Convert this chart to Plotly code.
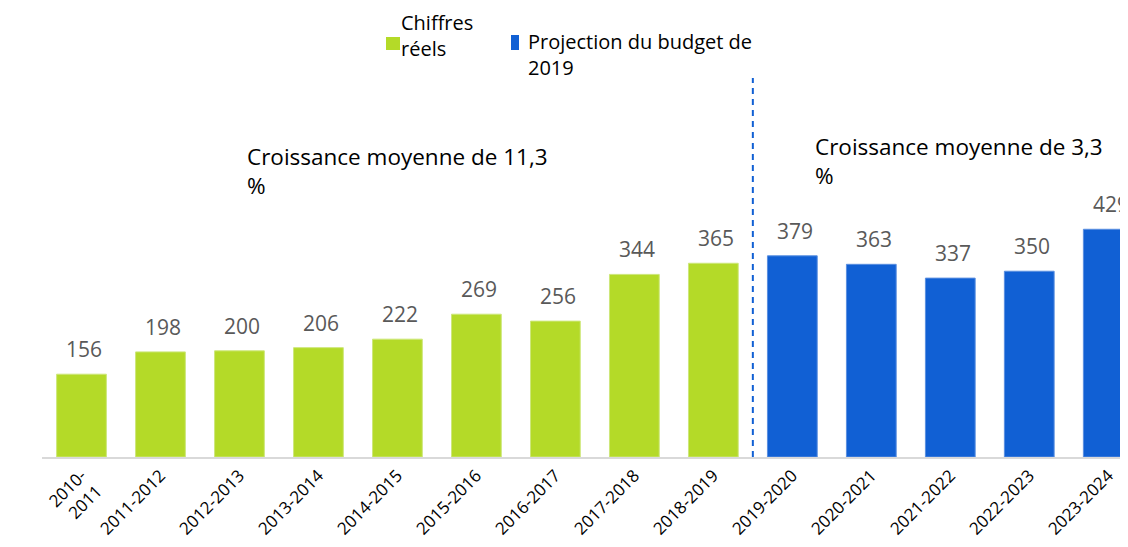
import plotly.graph_objects as go

# ---- data ----
actual_years = ["2010-<br>2011", "2011-2012", "2012-2013", "2013-2014", "2014-2015",
                "2015-2016", "2016-2017", "2017-2018", "2018-2019"]
actual_values = [156, 198, 200, 206, 222, 269, 256, 344, 365]
proj_years = ["2019-2020", "2020-2021", "2021-2022", "2022-2023", "2023-2024"]
proj_values = [379, 363, 337, 350, 429]
series_names = ["Chiffres<br>réels", "Projection du budget de<br>2019"]
growth_notes = ["Croissance moyenne de 11,3<br>%", "Croissance moyenne de 3,3<br>%"]

GREEN = "#B4DA28"
BLUE = "#1160D4"
FONT = "Open Sans"

OFF = 8  # page body margin
W, H = 1128 - OFF, 547 - 2 * OFF
PLOT_X0, PLOT_Y0, PLOT_Y1 = 42, 78, 457  # page pixel positions of plot area
L, R, T = PLOT_X0 - OFF, 0, PLOT_Y0 - OFF
B = H + OFF - PLOT_Y1
PW, PH = W - L - R, H - T - B


def px(x):
    return (x - PLOT_X0) / PW


def py(y):
    return (PLOT_Y1 - y) / PH


categories = actual_years + proj_years

fig = go.Figure()
fig.add_trace(go.Bar(x=actual_years, y=actual_values, marker_color=GREEN,
                     marker_line=dict(color="#CDE77A", width=1),
                     name="Chiffres réels", showlegend=False))
fig.add_trace(go.Bar(x=proj_years, y=proj_values, marker_color=BLUE,
                     marker_line=dict(color="#5A8FE0", width=1),
                     name="Projection du budget de 2019", showlegend=False))

annotations = []
for cat, val in zip(categories, actual_values + proj_values):
    annotations.append(dict(x=cat, y=val, xref="x", yref="y", text=str(val),
                            showarrow=False, yanchor="bottom", yshift=9, xshift=3,
                            font=dict(family=FONT, size=21, color="#595959")))

# growth notes
annotations.append(dict(x=px(245), y=py(139), xref="paper", yref="paper",
                        text=growth_notes[0], showarrow=False, xanchor="left",
                        yanchor="top", align="left",
                        font=dict(family=FONT, size=22.5, color="#000000")))
annotations.append(dict(x=px(813), y=py(129), xref="paper", yref="paper",
                        text=growth_notes[1], showarrow=False, xanchor="left",
                        yanchor="top", align="left",
                        font=dict(family=FONT, size=22.5, color="#000000")))

# legend
annotations.append(dict(x=px(400), y=py(8), xref="paper", yref="paper",
                        text=series_names[0], showarrow=False, xanchor="left",
                        yanchor="top", align="left", borderpad=0,
                        font=dict(family=FONT, size=20, color="#000000")))
annotations.append(dict(x=px(527), y=py(27), xref="paper", yref="paper",
                        text=series_names[1], showarrow=False, xanchor="left",
                        yanchor="top", align="left", borderpad=0,
                        font=dict(family=FONT, size=20, color="#000000")))

shapes = [
    dict(type="line", xref="x", yref="paper", x0=8.5, x1=8.5, y0=0, y1=1,
         line=dict(color=BLUE, width=2, dash="6px,5px")),
    dict(type="rect", xref="paper", yref="paper", x0=px(386), x1=px(400),
         y0=py(50), y1=py(37), fillcolor=GREEN, line=dict(width=0)),
    dict(type="rect", xref="paper", yref="paper", x0=px(511), x1=px(519),
         y0=py(50), y1=py(35), fillcolor=BLUE, line=dict(width=0)),
]

fig.update_layout(
    width=W, height=H,
    margin=dict(l=L, r=R, t=T, b=B, autoexpand=False),
    paper_bgcolor="white", plot_bgcolor="white",
    barmode="overlay", bargap=0.37,
    annotations=annotations, shapes=shapes,
    xaxis=dict(type="category", categoryorder="array", categoryarray=categories,
               range=[-0.5, 13.25], tickangle=-45, showline=True, automargin=False,
               linecolor="#D9D9D9", linewidth=2, showgrid=False, ticks="",
               tickfont=dict(family=FONT, size=17, color="#000000")),
    yaxis=dict(range=[0, 714], visible=False, showgrid=False, zeroline=False),
    font=dict(family=FONT),
)

fig.write_html("out.html")
